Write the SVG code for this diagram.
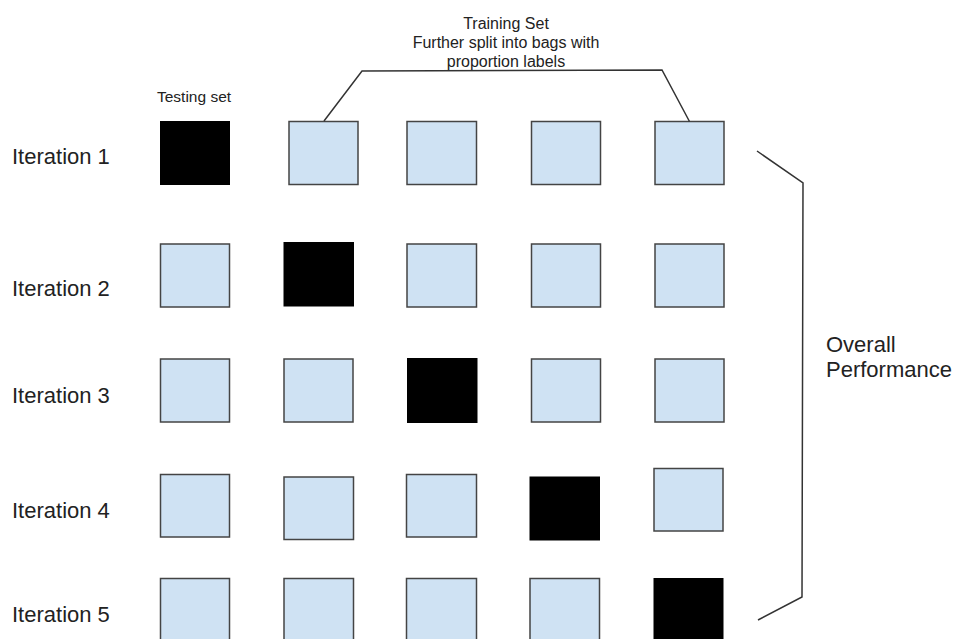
<svg xmlns="http://www.w3.org/2000/svg" width="956" height="639" viewBox="0 0 956 639">
  <style>
    text { font-family: "Liberation Sans", Arial, sans-serif; fill: #222; }
    .iter { font-size: 22px; }
    .note { font-size: 16px; }
    .small { font-size: 15.5px; }
    .bag { fill: #cfe2f3; stroke: #444; stroke-width: 1.5; }
    .test { fill: #000; stroke: #000; stroke-width: 1; }
    .link { fill: none; stroke: #333; stroke-width: 1.5; stroke-linejoin: miter; }
  </style>
  <rect width="956" height="639" fill="#fff"/>

  <!-- headings -->
  <g id="label-testing">
    <text class="small" x="157" y="102">Testing set</text>
  </g>
  <g id="label-training">
    <text class="note" x="506" y="28.5" text-anchor="middle">Training Set</text>
    <text class="note" x="506" y="47.5" text-anchor="middle">Further split into bags with</text>
    <text class="note" x="506" y="66.5" text-anchor="middle">proportion labels</text>
  </g>
  <g id="label-overall">
    <text class="iter" x="826" y="352">Overall</text>
    <text class="iter" x="826" y="376.5">Performance</text>
  </g>

  <!-- row labels -->
  <g id="iteration-labels">
    <text class="iter" x="12" y="164">Iteration 1</text>
    <text class="iter" x="12" y="296">Iteration 2</text>
    <text class="iter" x="12" y="403">Iteration 3</text>
    <text class="iter" x="12" y="518">Iteration 4</text>
    <text class="iter" x="12" y="622">Iteration 5</text>
  </g>

  <!-- iteration 1 -->
  <g id="iter1">
    <rect class="test" x="160.5" y="121.5" width="69" height="63"/>
    <rect class="bag" x="289" y="121.5" width="69" height="63"/>
    <rect class="bag" x="407" y="121.5" width="69.5" height="63"/>
    <rect class="bag" x="531.5" y="121.5" width="69" height="63"/>
    <rect class="bag" x="655" y="121.5" width="69" height="63"/>
  </g>

  <!-- iteration 2 -->
  <g id="iter2">
    <rect class="bag" x="160.5" y="244" width="69" height="63"/>
    <rect class="test" x="284" y="242.5" width="69.5" height="63.5"/>
    <rect class="bag" x="407" y="244" width="69.5" height="63"/>
    <rect class="bag" x="531.5" y="244" width="69" height="63"/>
    <rect class="bag" x="655" y="244" width="69" height="63"/>
  </g>

  <!-- iteration 3 -->
  <g id="iter3">
    <rect class="bag" x="160.5" y="359" width="69" height="63"/>
    <rect class="bag" x="284" y="359" width="69" height="63"/>
    <rect class="test" x="407.5" y="358.5" width="69.5" height="64"/>
    <rect class="bag" x="531.5" y="359" width="69" height="63"/>
    <rect class="bag" x="655" y="359" width="69" height="63"/>
  </g>

  <!-- iteration 4 -->
  <g id="iter4">
    <rect class="bag" x="160.5" y="474.5" width="69" height="62.5"/>
    <rect class="bag" x="284" y="477" width="69.5" height="62.5"/>
    <rect class="bag" x="406.5" y="474.5" width="70" height="62.5"/>
    <rect class="test" x="530" y="477" width="69.5" height="63"/>
    <rect class="bag" x="654" y="468.5" width="69" height="62.5"/>
  </g>

  <!-- iteration 5 -->
  <g id="iter5">
    <rect class="bag" x="160.5" y="578.5" width="69" height="70"/>
    <rect class="bag" x="284" y="578.5" width="69.5" height="70"/>
    <rect class="bag" x="406.5" y="578.5" width="70" height="70"/>
    <rect class="bag" x="530" y="578.5" width="69.5" height="70"/>
    <rect class="test" x="654" y="578.5" width="69" height="70"/>
  </g>

  <!-- brackets -->
  <g id="connectors">
    <path class="link" d="M324,121 L362,71 L662,70 L689.5,121.5"/>
    <path class="link" d="M757,151 L803,183 L802,597 L758,620"/>
  </g>
</svg>
